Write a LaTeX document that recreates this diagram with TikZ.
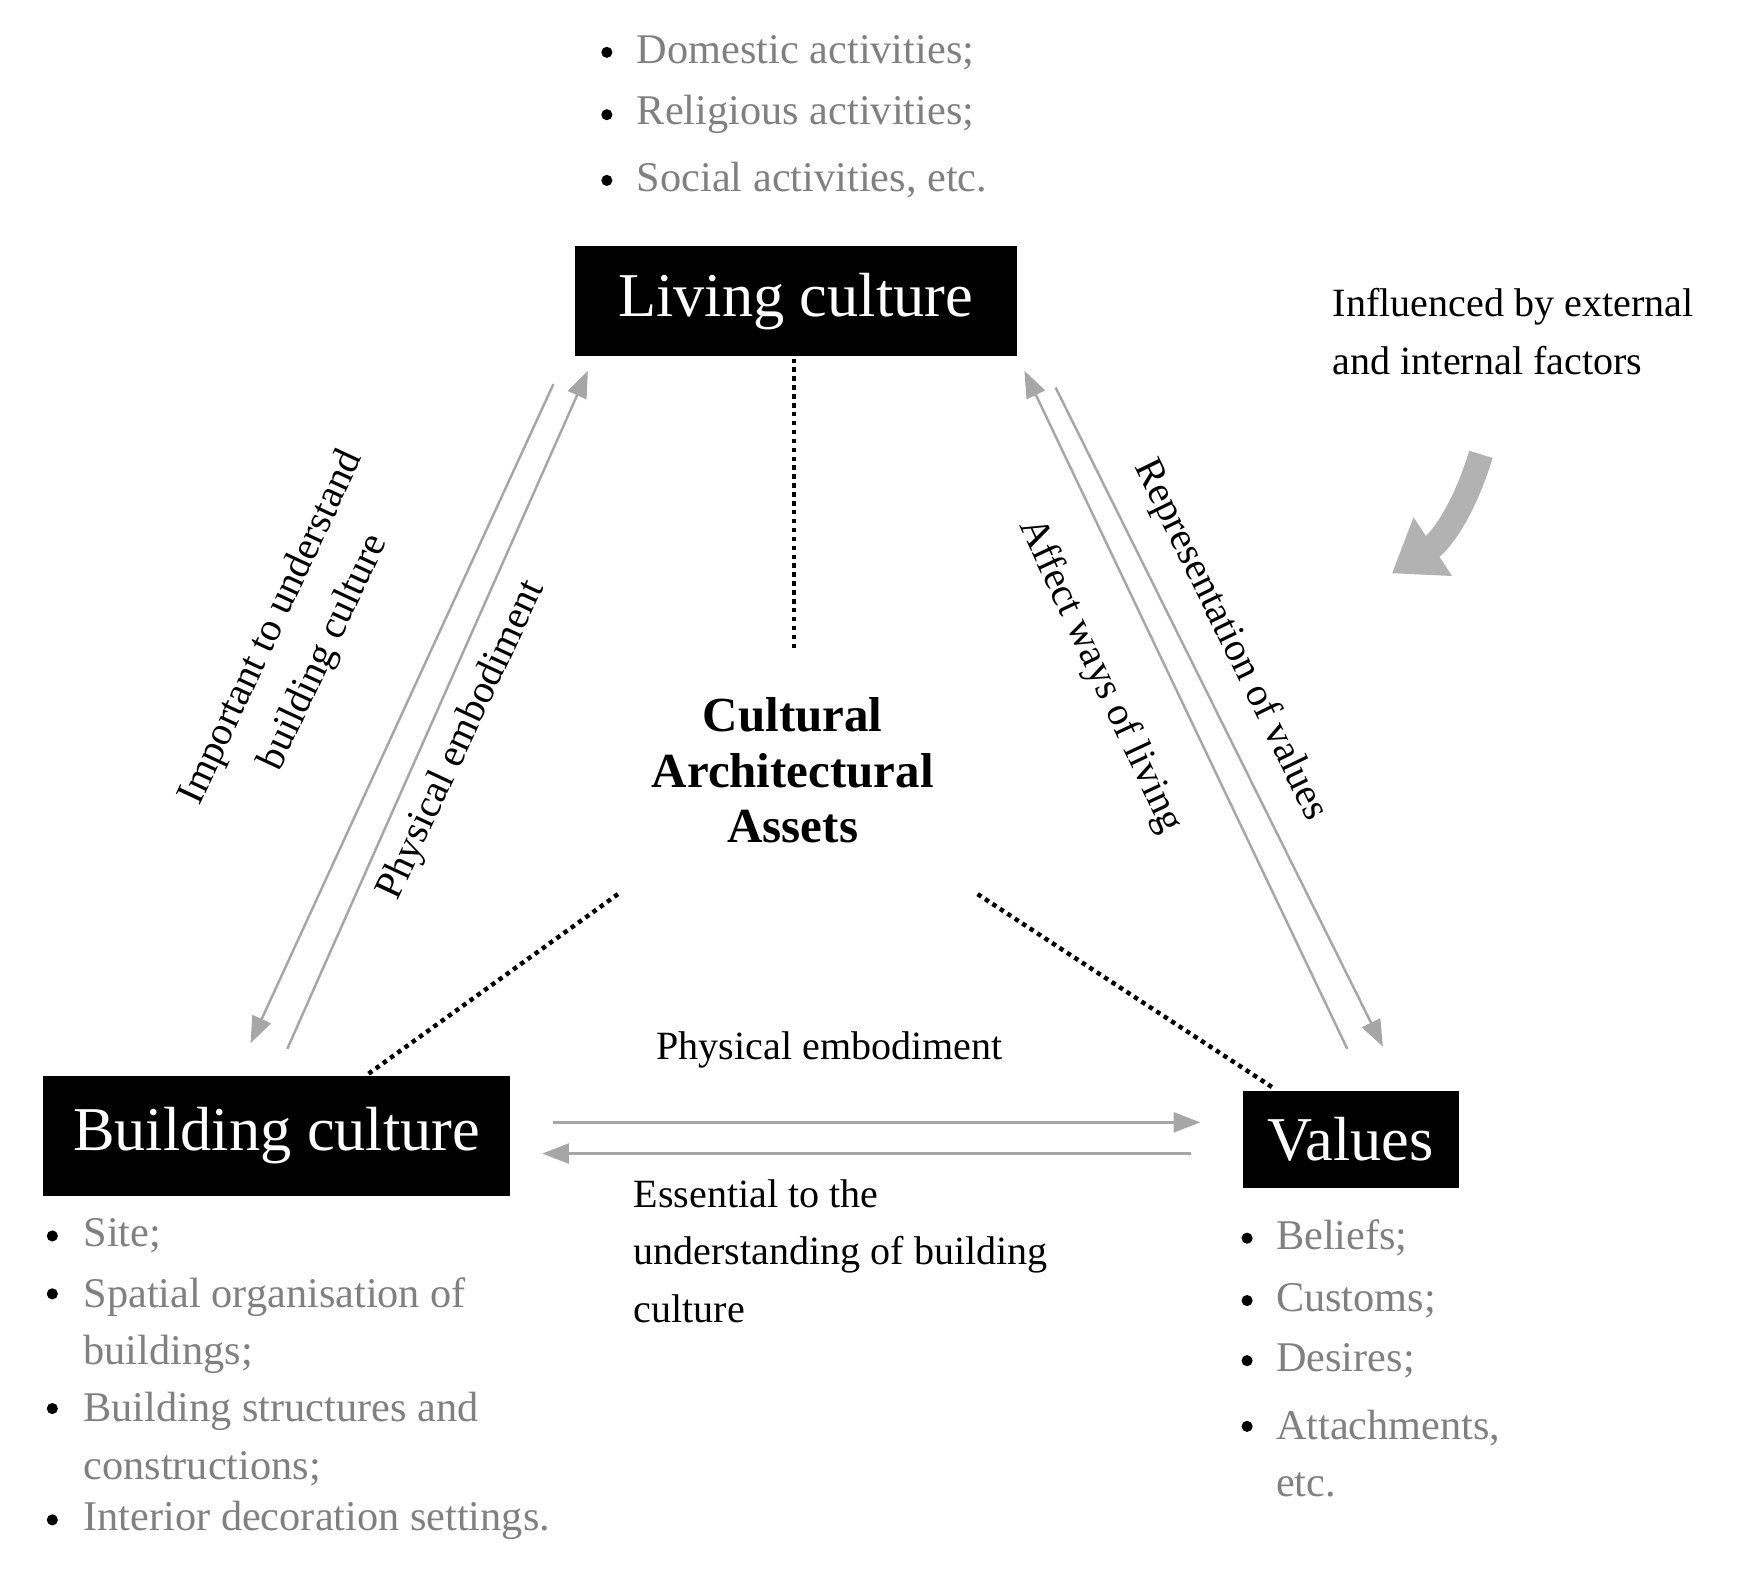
\documentclass[tikz,border=0pt]{standalone}
\usepackage{fontspec}
\setmainfont{Liberation Serif}
\usetikzlibrary{arrows.meta}
\begin{document}
\begin{tikzpicture}[x=0.5pt,y=-0.5pt,
  box/.style={fill=black,text=white,font=\fontsize{28}{30}\selectfont,inner sep=0pt},
  lst/.style={anchor=west,text=gray,font=\fontsize{19}{26}\selectfont},
  bul/.style={circle,fill=black,inner sep=0pt,minimum size=5pt},
  lab/.style={font=\fontsize{18}{26}\selectfont,align=center},
  garr/.style={draw=gray!70,line width=1.1pt,-{Triangle[width=9pt,length=12pt,fill=gray!70]}},
  dots/.style={dotted,line width=2pt}]
\useasboundingbox (0,0) rectangle (1560,1420);
% boxes
\node[box,minimum width=198.5pt,minimum height=49.5pt] (lc) at (714.5,270.5) {Living culture};
\node[box,minimum width=209.5pt,minimum height=54pt] (bc) at (248.5,1020) {Building culture};
\node[box,minimum width=97pt,minimum height=43.5pt] (va) at (1213,1023.5) {Values};
% top list
\foreach \y/\t [count=\i] in {47/Domestic activities;,103/Religious activities;,162/{Social activities, etc.}}{
  \node[bul] (tb\i) at (545,\y) {}; \node[lst] (tt\i) at (565,\y) {\t};}
% building culture list
\node[bul] (b1) at (47,1110) {}; \node[lst] (bt1) at (68,1110) {Site;};
\node[bul] (b2) at (47,1162) {}; \node[lst,align=left,anchor=north west] (bt2) at (68,1140) {Spatial organisation of\\buildings;};
\node[bul] (b3) at (47,1265) {}; \node[lst,align=left,anchor=north west] (bt3) at (68,1243) {Building structures and\\constructions;};
\node[bul] (b4) at (47,1365) {}; \node[lst] (bt4) at (68,1365) {Interior decoration settings.};
% values list
\foreach \y/\t [count=\i] in {1112/Beliefs;,1168/Customs;,1222/Desires;}{
  \node[bul] (vb\i) at (1120,\y) {}; \node[lst] (vt\i) at (1139,\y) {\t};}
\node[bul] (vb4) at (1120,1281) {}; \node[lst,align=left,anchor=north west] (vt4) at (1139,1259) {Attachments,\\etc.};
% center
\node[font=\bfseries\fontsize{22}{25}\selectfont,align=center] (caa) at (712,692) {Cultural\\Architectural\\Assets};
% dotted
\coordinate (d1a) at (713,322); \coordinate (d1b) at (713,585);
\coordinate (d2a) at (555,803); \coordinate (d2b) at (330,965);
\coordinate (d3a) at (878,803); \coordinate (d3b) at (1145,978);
\draw[dots] (d1a)--(d1b); \draw[dots] (d2a)--(d2b); \draw[dots] (d3a)--(d3b);
% arrows
\coordinate (l1a) at (497,345); \coordinate (l1b) at (225,937);
\coordinate (l2a) at (258,942); \coordinate (l2b) at (528,333);
\coordinate (r1a) at (1210,942); \coordinate (r1b) at (920,333);
\coordinate (r2a) at (948,348); \coordinate (r2b) at (1242,940);
\coordinate (h1a) at (497,1008); \coordinate (h1b) at (1078,1008);
\coordinate (h2a) at (1070,1036); \coordinate (h2b) at (487,1036);
\draw[garr] (l1a)--(l1b); \draw[garr] (l2a)--(l2b);
\draw[garr] (r1a)--(r1b); \draw[garr] (r2a)--(r2b);
\draw[garr] (h1a)--(h1b); \draw[garr] (h2a)--(h2b);
% labels
\node[lab,rotate=65] (lab1) at (268,575) {Important to understand\\building culture};
\node[lab,rotate=65] (lab2) at (415,665) {Physical embodiment};
\node[lab,rotate=-65] (lab3) at (988,607) {Affect ways of living};
\node[lab,rotate=-64] (lab4) at (1105,575) {Representation of values};
\node[lab] (lab5) at (745,943) {Physical embodiment};
\node[lab,align=left,anchor=north west] (lab6) at (562,1052) {Essential to the\\understanding of building\\culture};
\node[lab,align=left,anchor=north west] (lab7) at (1190,252) {Influenced by external\\and internal factors};
% curved arrow
\coordinate (ca) at (1330,408); \coordinate (cb) at (1250,515);
\draw[gray!60,line width=11pt,-{Triangle[width=30pt,length=22pt]}] (ca) to[bend left=20] (cb);
\end{tikzpicture}
\end{document}
